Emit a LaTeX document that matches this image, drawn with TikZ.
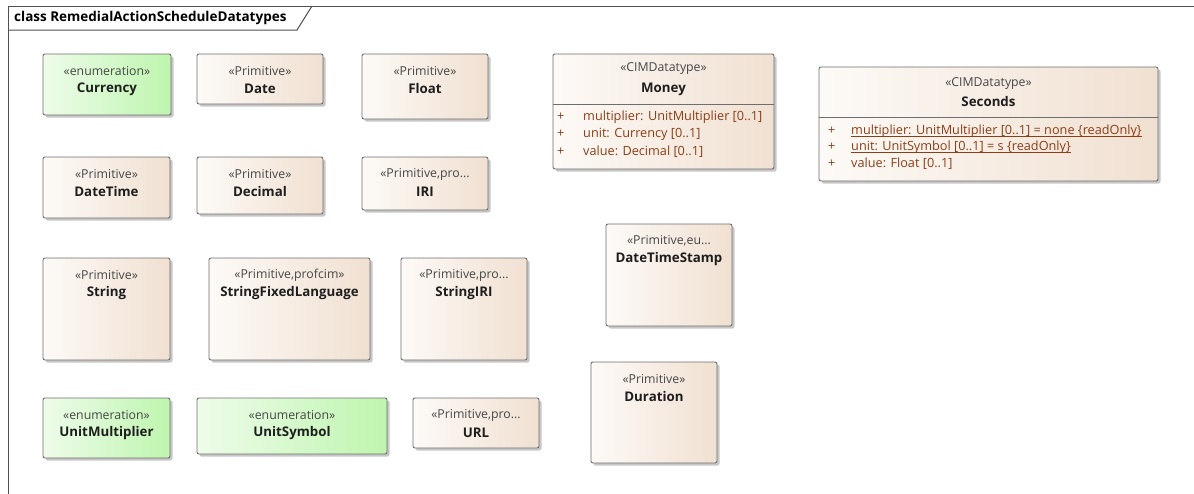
\documentclass[tikz,border=0pt]{standalone}
\usepackage{fontspec}
\setmainfont{Open Sans}
\usetikzlibrary{shadows}
\definecolor{primL}{RGB}{253,250,247}
\definecolor{primR}{RGB}{240,224,209}
\definecolor{enumL}{RGB}{238,252,234}
\definecolor{enumR}{RGB}{190,245,174}
\definecolor{boxline}{RGB}{110,110,110}
\definecolor{stereoc}{RGB}{70,70,70}
\definecolor{namec}{RGB}{30,30,30}
\definecolor{attrc}{RGB}{140,62,22}
\definecolor{framec}{RGB}{80,80,80}
\tikzset{
  umlbox/.style={draw=boxline, line width=0.9pt, rounded corners=2pt, inner sep=0pt, outer sep=0pt, anchor=north west,
     drop shadow={shadow xshift=2.5pt, shadow yshift=-2.5pt, fill=black, opacity=0.22}},
  primbox/.style={umlbox, left color=primL, right color=primR},
  enumbox/.style={umlbox, left color=enumL, right color=enumR},
  stereo/.style={inner sep=0pt, text=stereoc, font=\fontsize{12.3}{14}\selectfont},
  cname/.style={inner sep=0pt, text=namec, font=\bfseries\fontsize{13.3}{15}\selectfont},
  attr/.style={inner sep=0pt, anchor=west, text=attrc, font=\fontsize{12.7}{14}\selectfont},
  uline/.style={draw=attrc, line width=0.8pt},
  sepline/.style={draw=boxline, line width=0.8pt},
}
% #1 name, #2 style, #3 x1, #4 y1, #5 width, #6 height, #7 stereotype, #8 title
\newcommand{\umlclass}[8]{%
  \node[#2, minimum width=#5pt, minimum height=#6pt] (#1) at (#3,#4) {};
  \node[stereo] (#1-s) at ([yshift=-17pt]#1.north) {#7};
  \node[cname] (#1-n) at ([yshift=-35pt]#1.north) {#8};
}
\begin{document}
\begin{tikzpicture}[x=1pt,y=-1pt]
\useasboundingbox (0,0) rectangle (1194,493);
% frame
\coordinate (fbl) at (8,495);
\coordinate (ftl) at (8,6);
\coordinate (ftr) at (1194,6);
\coordinate (tabl) at (8,30);
\coordinate (tabb) at (297,30);
\coordinate (tabt) at (312,6);
\draw[framec, line width=1pt] (fbl) -- (ftl) -- (ftr);
\draw[framec, line width=1pt] (tabl) -- (tabb) -- (tabt);
\node[anchor=west, inner sep=0pt, font=\bfseries\fontsize{13.5}{15}\selectfont, text=black] (title) at (14,18) {class RemedialActionScheduleDatatypes};

% row 1
\umlclass{currency}{enumbox}{43}{54}{128}{61}{«enumeration»}{Currency}
\umlclass{date}{primbox}{197}{54}{126}{50}{«Primitive»}{Date}
\umlclass{float}{primbox}{362}{54}{126}{65}{«Primitive»}{Float}
% row 2
\umlclass{datetime}{primbox}{43}{157}{127}{61}{«Primitive»}{DateTime}
\umlclass{decimal}{primbox}{197}{157}{126}{57}{«Primitive»}{Decimal}
\umlclass{iri}{primbox}{362}{157}{126}{53}{«Primitive,pro...}{IRI}
% row 3
\umlclass{string}{primbox}{43}{258}{127}{102}{«Primitive»}{String}
\umlclass{sfl}{primbox}{209}{258}{161}{102}{«Primitive,profcim»}{StringFixedLanguage}
\umlclass{stringiri}{primbox}{401}{258}{126}{102}{«Primitive,pro...}{StringIRI}
% row 4
\umlclass{unitmult}{enumbox}{43}{398}{127}{60}{«enumeration»}{UnitMultiplier}
\umlclass{unitsym}{enumbox}{197}{398}{190}{56}{«enumeration»}{UnitSymbol}
\umlclass{url}{primbox}{413}{398}{126}{50}{«Primitive,pro...}{URL}
% middle column
\umlclass{dts}{primbox}{606}{224}{126}{102}{«Primitive,eu...}{DateTimeStamp}
\umlclass{duration}{primbox}{591}{362}{126}{101}{«Primitive»}{Duration}

% Money
\node[primbox, minimum width=221pt, minimum height=115pt] (money) at (553,54) {};
\node[stereo] (money-s) at ([yshift=-15pt]money.north) {«CIMDatatype»};
\node[cname] (money-n) at ([yshift=-35pt]money.north) {Money};
\draw[sepline] ([yshift=-50pt]money.north west) -- ([yshift=-50pt]money.north east);
\node[attr] (money-p1) at (557,117) {+};
\node[attr] (money-a1) at (583,117) {multiplier: UnitMultiplier [0..1]};
\node[attr] (money-p2) at (557,134) {+};
\node[attr] (money-a2) at (583,134) {unit: Currency [0..1]};
\node[attr] (money-p3) at (557,152) {+};
\node[attr] (money-a3) at (583,152) {value: Decimal [0..1]};

% Seconds
\node[primbox, minimum width=339pt, minimum height=114pt] (seconds) at (819,67) {};
\node[stereo] (seconds-s) at ([yshift=-17pt]seconds.north) {«CIMDatatype»};
\node[cname] (seconds-n) at ([yshift=-35pt]seconds.north) {Seconds};
\draw[sepline] ([yshift=-50pt]seconds.north west) -- ([yshift=-50pt]seconds.north east);
\node[attr] (seconds-p1) at (828,131) {+};
\node[attr] (seconds-a1) at (851,131) {multiplier: UnitMultiplier [0..1] = none \{readOnly\}};
\draw[uline] ([yshift=-2pt]seconds-a1.base west) -- ([yshift=-2pt]seconds-a1.base east);
\node[attr] (seconds-p2) at (828,147) {+};
\node[attr] (seconds-a2) at (851,147) {unit: UnitSymbol [0..1] = s \{readOnly\}};
\draw[uline] ([yshift=-2pt]seconds-a2.base west) -- ([yshift=-2pt]seconds-a2.base east);
\node[attr] (seconds-p3) at (828,164) {+};
\node[attr] (seconds-a3) at (851,164) {value: Float [0..1]};
\end{tikzpicture}
\end{document}
